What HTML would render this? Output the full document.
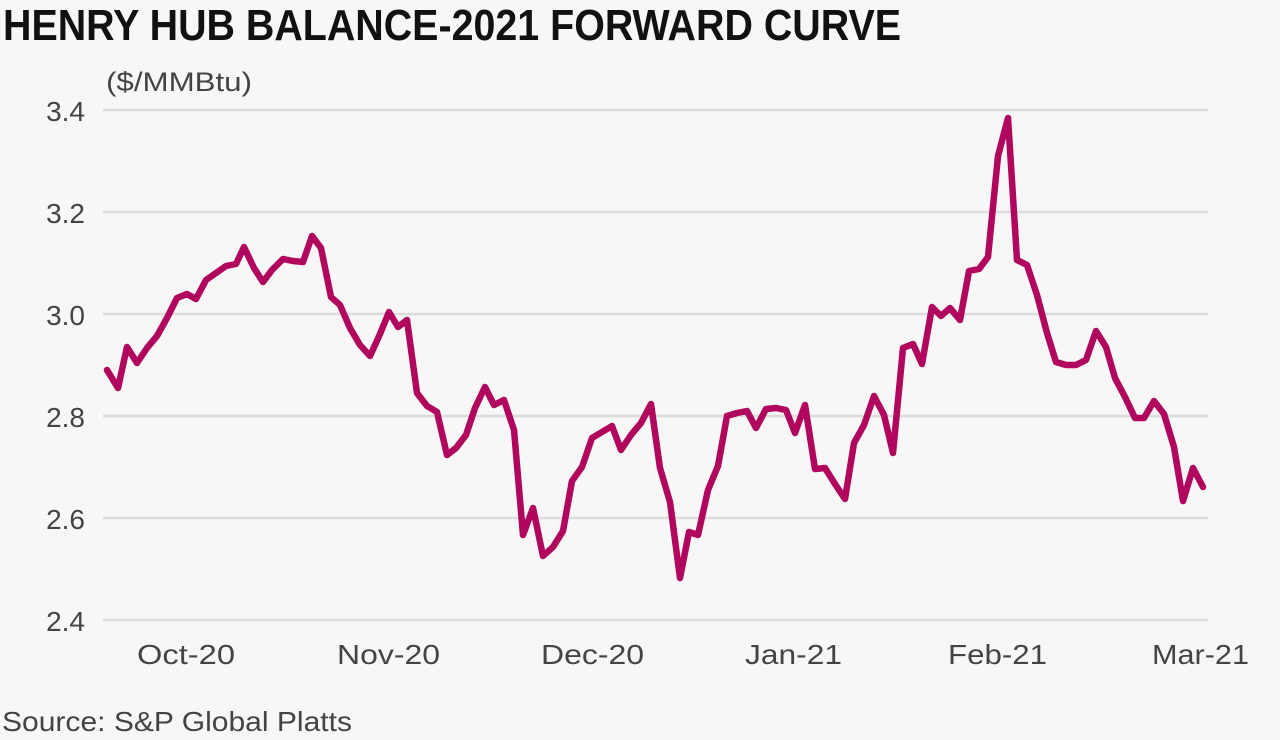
<!DOCTYPE html>
<html><head><meta charset="utf-8"><style>
html,body{margin:0;padding:0;background:#f7f7f7;}
svg{display:block;}
</style></head><body>
<svg width="1280" height="740" viewBox="0 0 1280 740" xmlns="http://www.w3.org/2000/svg">
<rect width="1280" height="740" fill="#f7f7f7"/>
<text x="3" y="40" font-family="Liberation Sans, sans-serif" font-weight="bold" font-size="44" fill="#111" textLength="898" lengthAdjust="spacingAndGlyphs">HENRY HUB BALANCE-2021 FORWARD CURVE</text>
<text x="106" y="91" font-family="Liberation Sans, sans-serif" font-size="27" fill="#444" textLength="146" lengthAdjust="spacingAndGlyphs">($/MMBtu)</text>
<g stroke="#dcdcdc" stroke-width="2.5">
<line x1="103" y1="110" x2="1208" y2="110"/>
<line x1="103" y1="212" x2="1208" y2="212"/>
<line x1="103" y1="314" x2="1208" y2="314"/>
<line x1="103" y1="416" x2="1208" y2="416"/>
<line x1="103" y1="518" x2="1208" y2="518"/>
<line x1="103" y1="620" x2="1208" y2="620"/>
</g>
<g font-family="Liberation Sans, sans-serif" font-size="28" fill="#444" text-anchor="end">
<text x="85" y="121">3.4</text>
<text x="85" y="223">3.2</text>
<text x="85" y="325">3.0</text>
<text x="85" y="427">2.8</text>
<text x="85" y="529">2.6</text>
<text x="85" y="631">2.4</text>
</g>
<g font-family="Liberation Sans, sans-serif" font-size="28" fill="#444">
<text x="137" y="664" textLength="98" lengthAdjust="spacingAndGlyphs">Oct-20</text>
<text x="337" y="664" textLength="103" lengthAdjust="spacingAndGlyphs">Nov-20</text>
<text x="541" y="664" textLength="103" lengthAdjust="spacingAndGlyphs">Dec-20</text>
<text x="745" y="664" textLength="97" lengthAdjust="spacingAndGlyphs">Jan-21</text>
<text x="948" y="664" textLength="99" lengthAdjust="spacingAndGlyphs">Feb-21</text>
<text x="1152" y="664" textLength="97" lengthAdjust="spacingAndGlyphs">Mar-21</text>
</g>
<text x="2" y="731" font-family="Liberation Sans, sans-serif" font-size="28" fill="#444" textLength="350" lengthAdjust="spacingAndGlyphs">Source: S&amp;P Global Platts</text>
<polyline fill="none" stroke="#b1065e" stroke-width="6.5" stroke-linejoin="round" stroke-linecap="round" points="107,370 118,388 127,347 137,363 147,348 157,336 167,318 177,298 187,294 196,299 206,280 216,273 226,266 236,264 244,247 254,268 263,282 272,270 283,259 293,261 303,262 312,236 321,248 331,297 340,305 350,328 360,345 370,356 380,334 389,312 398,327 407,320 417,393 427,406 437,412 447,455 456,448 466,435 475,408 485,387 494,405 504,400 514,430 523,535 533,508 543,556 553,547 563,531 572,481 582,467 592,438 602,432 612,426 621,450 631,435 641,423 651,404 660,468 670,502 680,578 689,532 698,535 708,490 718,466 727,416 737,413 747,411 756,428 766,409 776,408 786,410 795,433 805,405 815,469 825,468 835,484 845,499 854,443 864,425 874,396 884,415 893,453 903,348 913,344 922,364 932,307 941,316 950,308 960,320 969,271 979,269 988,257 998,156 1008,118 1017,260 1027,265 1037,295 1047,333 1056,362 1066,365 1076,365 1086,360 1096,331 1106,347 1115,378 1125,397 1135,418 1144,418 1154,401 1164,414 1174,447 1183,501 1193,468 1203,487"/>
</svg>
</body></html>
